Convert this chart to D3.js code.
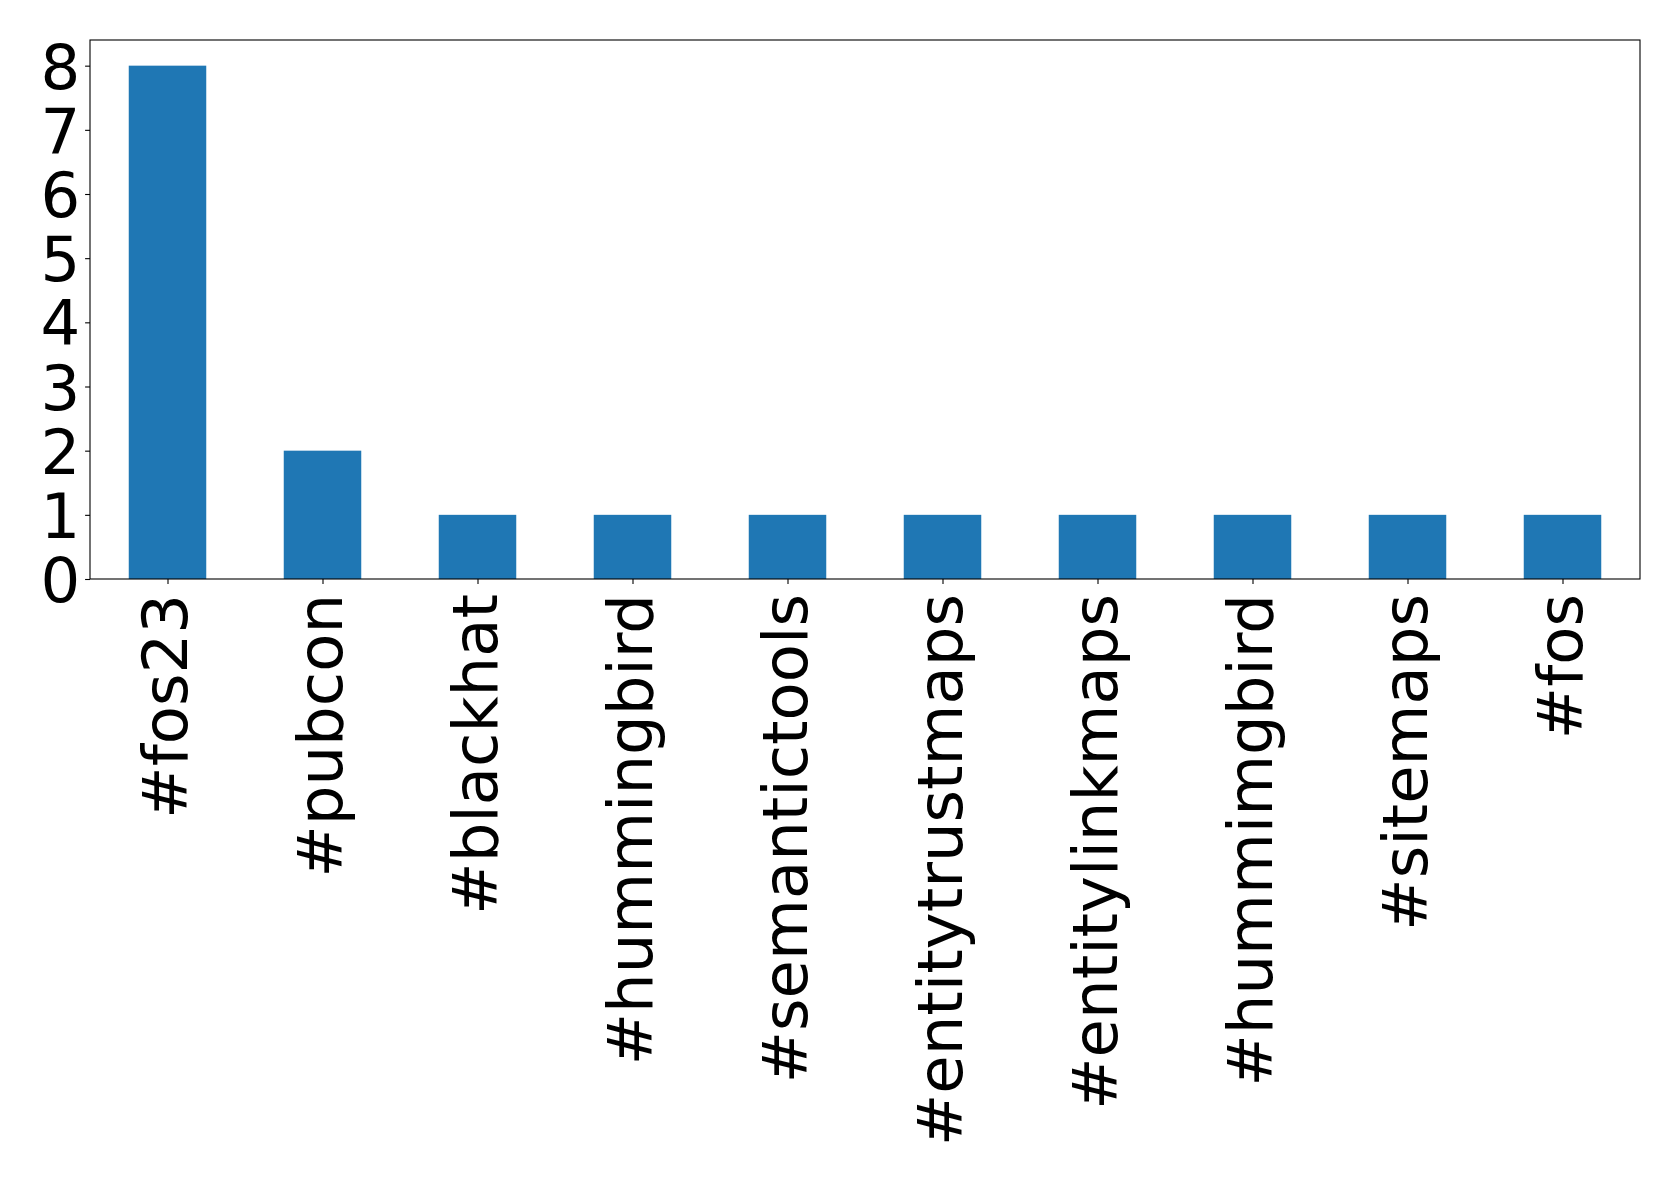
<!DOCTYPE html>
<html>
<head>
<meta charset="utf-8">
<script src="https://cdn.jsdelivr.net/npm/d3@7"></script>
<style>
  html, body { margin: 0; padding: 0; background: #fff; }
  svg { display: block; }
  text { font-family: "DejaVu Sans", sans-serif; fill: #000; }
</style>
</head>
<body>
<svg id="chart" width="1679" height="1180"></svg>
<script>
const categories = ["#fos23", "#pubcon", "#blackhat", "#hummingbird", "#semantictools",
  "#entitytrustmaps", "#entitylinkmaps", "#hummimgbird", "#sitemaps", "#fos"];
const counts = [8, 2, 1, 1, 1, 1, 1, 1, 1, 1];
const yTicks = [0, 1, 2, 3, 4, 5, 6, 7, 8];

(function () {
const svg = d3.select("#chart");
const mLeft = 90, mTop = 40, mRight = 1640, mBottom = 579;
const fontSize = 62.5;

const x = d3.scaleLinear().domain([-0.5, categories.length - 0.5]).range([mLeft, mRight]);
const y = d3.scaleLinear().domain([0, 8.4]).range([mBottom, mTop]);
const barW = 0.5;

svg.append("g").selectAll("rect").data(counts).join("rect")
  .attr("x", (d, i) => x(i - barW / 2))
  .attr("width", (d, i) => x(i + barW / 2) - x(i - barW / 2))
  .attr("y", d => y(d))
  .attr("height", d => y(0) - y(d))
  .attr("fill", "#1f77b4");

// Y axis
const yAxis = d3.axisLeft(y).tickValues(yTicks).tickFormat(d3.format("d")).tickSize(4.9).tickPadding(4.9);
const gy = svg.append("g").attr("transform", `translate(${mLeft},0)`).call(yAxis);
gy.select(".domain").remove();
gy.selectAll(".tick line").attr("stroke", "#000").attr("stroke-width", 1.1);
gy.selectAll(".tick text").style("font-size", fontSize + "px").style("font-family", "DejaVu Sans").attr("dy", "0.36em");

// X axis
const xAxis = d3.axisBottom(x).tickValues(d3.range(categories.length)).tickFormat(i => categories[i]).tickSize(4.9).tickPadding(4.9);
const gx = svg.append("g").attr("transform", `translate(0,${mBottom})`).call(xAxis);
gx.select(".domain").remove();
gx.selectAll(".tick line").attr("stroke", "#000").attr("stroke-width", 1.1);
gx.selectAll(".tick text")
  .style("font-size", fontSize + "px").style("font-family", "DejaVu Sans")
  .attr("transform", "rotate(-90)")
  .attr("text-anchor", "end")
  .attr("x", -15)
  .attr("y", 0)
  .attr("dy", "0.31em");

// Frame
svg.append("rect")
  .attr("x", mLeft).attr("y", mTop)
  .attr("width", mRight - mLeft).attr("height", mBottom - mTop)
  .attr("fill", "none").attr("stroke", "#000").attr("stroke-width", 1.1);
})();
</script>
</body>
</html>
